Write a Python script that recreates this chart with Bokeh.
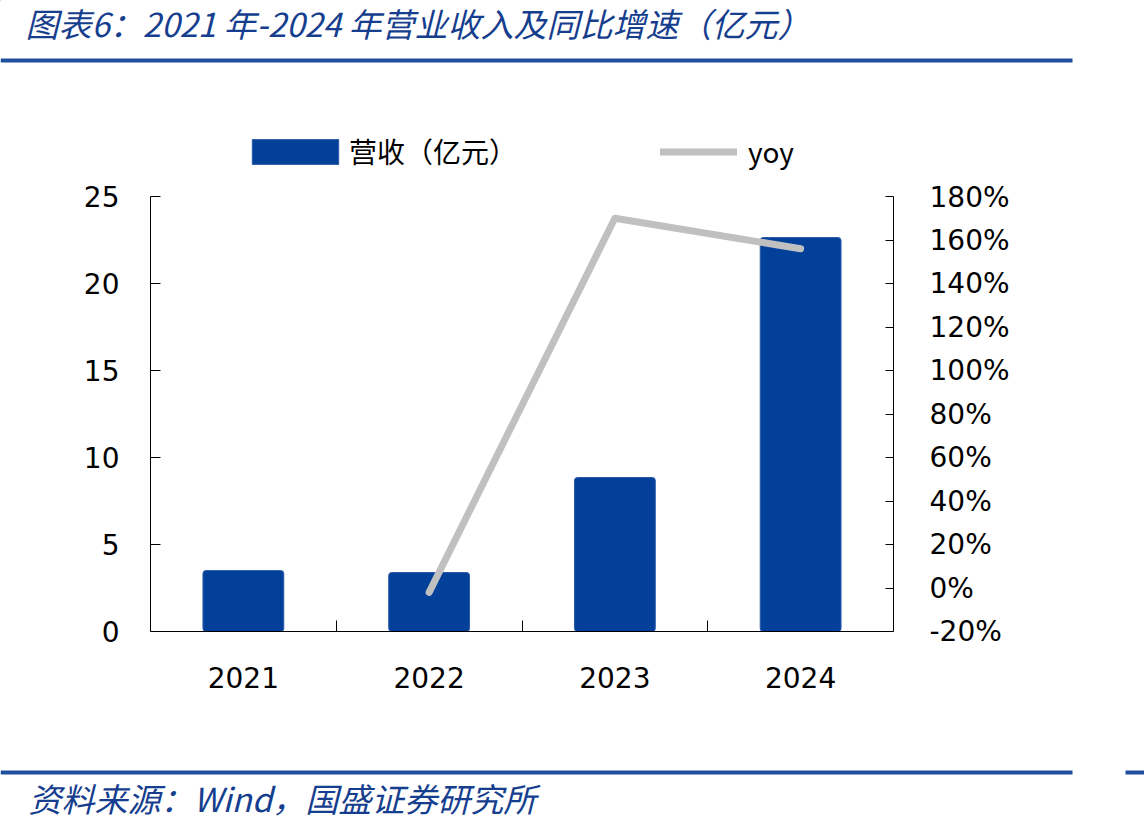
from bokeh.plotting import figure
from bokeh.models import (Range1d, LinearAxis, FixedTicker, PrintfTickFormatter,
                          Legend, LegendItem, ColumnDataSource)
from bokeh.core.properties import value
from bokeh.embed import file_html
from bokeh.resources import INLINE

# ---------------- data ----------------
years = ["2021", "2022", "2023", "2024"]
revenue = [3.5, 3.39, 8.85, 22.64]          # 营收（亿元）
yoy_years = ["2022", "2023", "2024"]
yoy = [-2, 170, 156]                         # yoy, %
left_ticks = [0, 5, 10, 15, 20, 25]
right_ticks = [-20, 0, 20, 40, 60, 80, 100, 120, 140, 160, 180]

title_text = "图表6：2021 年-2024 年营业收入及同比增速（亿元）"
source_text = "资料来源：Wind，国盛证券研究所"
legend_labels = ["营收（亿元）", "yoy"]

BAR = "#02409A"
BAR_EDGE = "#2A5AAA"
LINE = "#C0C0C0"
BLUE_TXT = "#163E8E"
RULE = "#1E4E9E"
CJK = "Noto Sans CJK SC"
NUM = "DejaVu Sans"

W = 1144
H_HEAD, H_MAIN, H_FOOT = 180, 580, 69


def blank(height):
    fig = figure(width=W, height=height, x_range=Range1d(0, W), y_range=Range1d(height, 0),
                 x_axis_type=None, y_axis_type=None, min_border=0,
                 toolbar_location=None, output_backend="svg")
    fig.outline_line_color = None
    return fig


def legend_box(item, loc, gw, gh, standoff):
    return Legend(items=[item], location=loc, orientation="horizontal",
                  glyph_width=gw, glyph_height=gh, label_standoff=standoff,
                  padding=0, margin=0, border_line_color=None, background_fill_alpha=0,
                  label_text_font=CJK, label_text_font_size="28px", label_text_color="black")


# ---------------- header (title, rule, legend) ----------------
h = blank(H_HEAD)
h.segment(x0=[0], x1=[1072], y0=[60], y1=[60], line_color=RULE, line_width=4)
h.text(x=[25], y=[22], text=[title_text], text_font=value(CJK), text_font_style="italic",
       text_font_size="33px", text_color=BLUE_TXT, text_baseline="middle")

# legend proxies (kept off-canvas) carrying the same styles as the chart's series
proxy_bar = h.vbar(x=[-500], top=[0], bottom=[0], width=1, fill_color=BAR, line_color=BAR_EDGE)
proxy_line = h.line(x=[-500, -400], y=[0, 0], line_color=LINE, line_width=7, line_cap="round")
h.add_layout(legend_box(LegendItem(label=legend_labels[0], renderers=[proxy_bar]),
                        (241, 9), 108, 31, 0))
h.add_layout(legend_box(LegendItem(label=legend_labels[1], renderers=[proxy_line]),
                        (660, 9), 77, 31, 11))

# ---------------- main chart ----------------
xs = [years.index(y) for y in years]
src_bar = ColumnDataSource(dict(x=xs, rev=revenue))
src_line = ColumnDataSource(dict(x=[years.index(y) for y in yoy_years], yoy=yoy))

p = figure(width=W, height=H_MAIN, x_range=Range1d(-0.5, len(years) - 0.5),
           y_range=Range1d(left_ticks[0], left_ticks[-1]),
           x_axis_type=None, y_axis_type=None,
           min_border_left=150, min_border_right=251, min_border_top=16, min_border_bottom=129,
           toolbar_location=None, output_backend="svg")
p.outline_line_color = None
p.extra_y_ranges = {"yoy": Range1d(right_ticks[0], right_ticks[-1])}

xaxis = LinearAxis(ticker=FixedTicker(ticks=xs, minor_ticks=[i + 0.5 for i in xs[:-1]]))
xaxis.major_label_overrides = {i: y for i, y in zip(xs, years)}
xaxis.major_tick_line_color = None
xaxis.minor_tick_in = 11
xaxis.minor_tick_out = 0
xaxis.minor_tick_line_color = "black"
xaxis.axis_line_color = "black"
xaxis.major_label_standoff = 29
xaxis.major_label_text_font = NUM
xaxis.major_label_text_font_size = "28px"
xaxis.major_label_text_color = "black"
p.add_layout(xaxis, "below")

laxis = LinearAxis(ticker=FixedTicker(ticks=left_ticks, minor_ticks=[]))
laxis.major_tick_in = 10
laxis.major_tick_out = 0
laxis.major_label_standoff = 31
laxis.major_label_text_font = NUM
laxis.major_label_text_font_size = "28px"
laxis.major_label_text_color = "black"
p.add_layout(laxis, "left")

raxis = LinearAxis(y_range_name="yoy", ticker=FixedTicker(ticks=right_ticks, minor_ticks=[]),
                   formatter=PrintfTickFormatter(format="%d%%"))
raxis.major_tick_in = 8
raxis.major_tick_out = 0
raxis.major_label_standoff = 36
raxis.major_label_text_font = NUM
raxis.major_label_text_font_size = "28px"
raxis.major_label_text_color = "black"
p.add_layout(raxis, "right")

p.vbar(x="x", top="rev", bottom=0, width=0.435, source=src_bar,
       fill_color=BAR, line_color=BAR_EDGE, line_width=1, border_radius=3)
p.line(x="x", y="yoy", source=src_line, y_range_name="yoy",
       line_color=LINE, line_width=7, line_cap="round", line_join="round")

# ---------------- footer ----------------
f = blank(H_FOOT)
f.segment(x0=[0, 1125], x1=[1072, W], y0=[12, 12], y1=[12, 12], line_color=RULE, line_width=4)
f.text(x=[28], y=[37], text=[source_text], text_font=value(CJK), text_font_style="italic",
       text_font_size="33px", text_color=BLUE_TXT, text_baseline="middle")

open("out.html", "w").write(file_html([h, p, f], INLINE))
